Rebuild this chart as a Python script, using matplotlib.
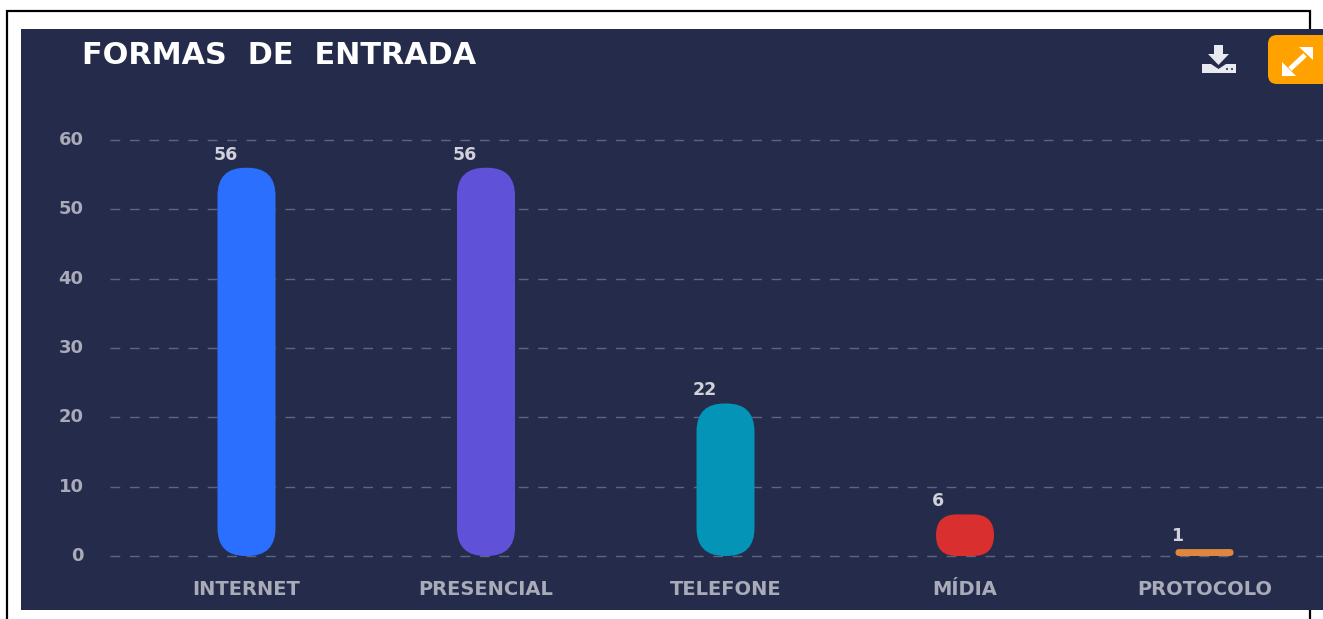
import matplotlib
matplotlib.use("Agg")
import matplotlib.pyplot as plt
from matplotlib.patches import FancyBboxPatch, Polygon, Rectangle, Circle
from matplotlib.transforms import ScaledTranslation

categorias = ["INTERNET", "PRESENCIAL", "TELEFONE", "MÍDIA", "PROTOCOLO"]
valores = [56, 56, 22, 6, 1]
cores = ["#2b6fff", "#5f52d8", "#0394b8", "#d92f2f", "#e0873f"]
yticks = [0, 10, 20, 30, 40, 50, 60]

W, H = 1323, 619
FUNDO = "#252b4b"
CINZA = "#a9abb9"

fig = plt.figure(figsize=(W / 100, H / 100), dpi=100, facecolor="white")

# camada em pixels para moldura, painel e icones
bg = fig.add_axes([0, 0, 1, 1])
bg.set_xlim(0, W)
bg.set_ylim(H, 0)
bg.axis("off")
bg.plot([7, 7, 1310, 1310], [H, 11, 11, H], color="black", lw=1.6,
        solid_joinstyle="miter", zorder=1)
bg.add_patch(Rectangle((21, 29), W - 21, 581, color=FUNDO, lw=0, zorder=2))
bg.add_patch(FancyBboxPatch((1268, 35), 70, 49, boxstyle="round,pad=0,rounding_size=9",
                            fc="#ffa200", ec="none", zorder=3))
bg.plot([1290, 1305], [69, 55], color="white", lw=3.6, solid_capstyle="butt", zorder=4)
bg.add_patch(Polygon([[1299, 47], [1313, 47], [1313, 60]], fc="white", ec="none", zorder=4))
bg.add_patch(Polygon([[1282, 62], [1282, 76], [1296, 76]], fc="white", ec="none", zorder=4))
# icone de download
bg.add_patch(Polygon([[1214, 45], [1223, 45], [1223, 54], [1229, 54], [1218.5, 65],
                      [1208, 54], [1214, 54]], fc="#e8eaf0", ec="none", zorder=4))
bg.add_patch(Polygon([[1202, 64], [1211, 64], [1218.5, 69], [1226, 64], [1236, 64],
                      [1236, 73], [1202, 73]], fc="#e8eaf0", ec="none", zorder=4))
bg.add_patch(Circle((1227, 69), 1, fc=FUNDO, ec="none", zorder=5))
bg.add_patch(Circle((1232, 69), 1, fc=FUNDO, ec="none", zorder=5))
bg.text(82, 56, "FORMAS  DE  ENTRADA", color="white", fontsize=21.8, fontweight="bold",
        family="DejaVu Sans", va="center", ha="left", zorder=5)

# eixo: y=0 em 556 px, y=60 em 140 px, categorias a cada 239.5 px
L, R, T, B = 110, 1323, 140, 556
ax = fig.add_axes([L / W, 1 - B / H, (R - L) / W, (B - T) / H])
ax.patch.set_alpha(0)
px_x = 239.5
ax.set_xlim(-(246.5 - L) / px_x, (R - 246.5) / px_x)
ax.set_ylim(0, 60)
px_y = (B - T) / 60

ax.set_axisbelow(True)
ax.yaxis.grid(True, color="#5f6480", lw=1.0, dashes=(7, 7))
ax.set_yticks(yticks)
ax.set_xticks(range(len(categorias)))
ax.set_xticklabels(categorias)
ax.tick_params(axis="both", length=0, colors=CINZA)
ax.tick_params(axis="x", pad=17, labelsize=14)
ax.tick_params(axis="y", pad=19, labelsize=13)
for lb in ax.get_xticklabels() + ax.get_yticklabels():
    lb.set_fontweight("bold")
for lb in ax.get_yticklabels():
    lb.set_transform(lb.get_transform() + ScaledTranslation(0, 1.5 / 72, fig.dpi_scale_trans))
for s in ax.spines.values():
    s.set_visible(False)
for gl in ax.get_ygridlines():
    gl.set_clip_on(False)

largura = 58 / px_x
for i, (v, c) in enumerate(zip(valores, cores)):
    altura_px = v * px_y
    r_px = min(28, altura_px * 0.5)
    ax.add_patch(FancyBboxPatch((i - largura / 2, 0), largura, v,
                                boxstyle=f"round,pad=0,rounding_size={r_px / px_x}",
                                mutation_aspect=px_x / px_y, fc=c, ec="none",
                                clip_on=False, zorder=3))
    ax.annotate(str(v), (i, v), xytext=(-24, 3), textcoords="offset points",
                ha="left", va="bottom", color="#d0d1da", fontsize=12.5, fontweight="bold")

fig.savefig("out.png", dpi=100, facecolor="white")
